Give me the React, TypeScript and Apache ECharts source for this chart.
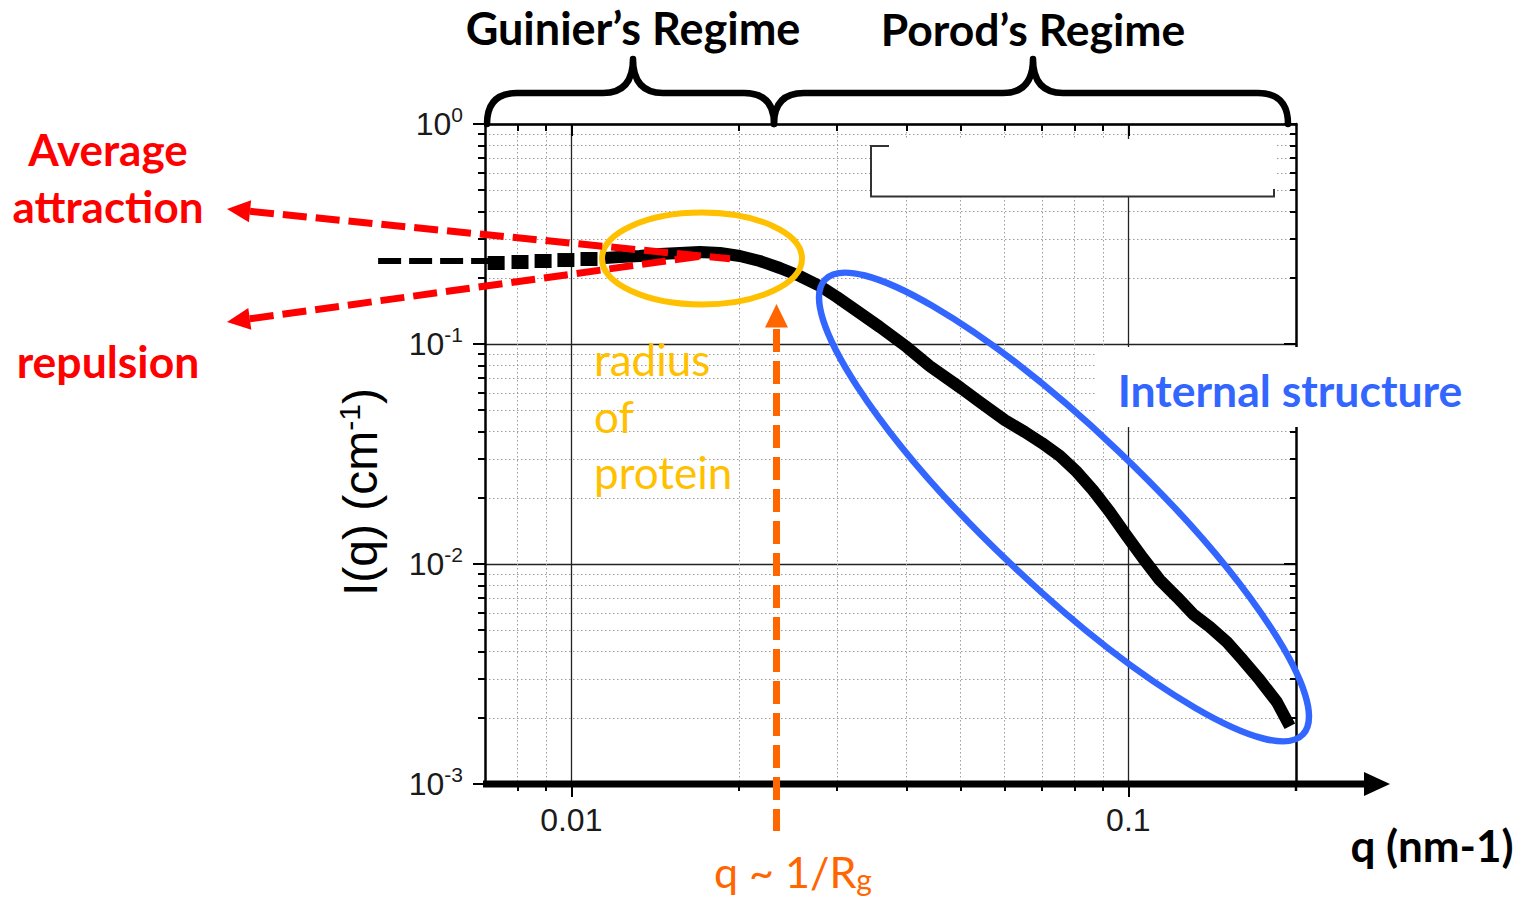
import { useEffect, useRef } from "react";
import * as echarts from "echarts";

// ---- SAXS profile: q in nm^-1, I(q) in cm^-1 ----
// sparse low-q points (drawn as separate square markers)
const qSparse = [0.00733, 0.00809, 0.0089, 0.00978, 0.01076];
const intensitySparse = [0.2334, 0.2359, 0.2384, 0.2408, 0.2434];

// dense part of the scan (drawn as a continuous thick trace)
const qCurve = [
  0.01149, 0.01223, 0.01327, 0.01442, 0.01566, 0.01701, 0.01848, 0.02007, 0.0218, 0.02368,
  0.02572, 0.02794, 0.02998, 0.03296, 0.0358, 0.04003, 0.04401, 0.05005, 0.05412, 0.06003,
  0.06521, 0.06994, 0.07534, 0.08085, 0.08636, 0.09265, 0.09938, 0.1062, 0.1139, 0.1222,
  0.1306, 0.1401, 0.1503, 0.1606, 0.1722, 0.1848, 0.195,
];
const intensityCurve = [
  0.2459, 0.2485, 0.2512, 0.2566, 0.2593, 0.262, 0.2593, 0.2512, 0.2384, 0.2215,
  0.2037, 0.1835, 0.1635, 0.1383, 0.1195, 0.0969, 0.0794, 0.0631, 0.0545, 0.0451,
  0.0398, 0.0355, 0.031, 0.0262, 0.0217, 0.01723, 0.01341, 0.01065, 0.00846, 0.00708,
  0.00593, 0.00517, 0.00442, 0.00366, 0.00297, 0.00236, 0.00183,
];

// Guinier plateau extrapolated towards q -> 0
const qPlateau = [0.0045, 0.00733];
const intensityPlateau = [0.2384, 0.2384];

// ---- axis ticks ----
const qMajorTicks = [0.01, 0.1];
const qMinorTicks = [0.008, 0.009, 0.02, 0.03, 0.04, 0.05, 0.06, 0.07, 0.08, 0.09];
const iMajorTicks = [0.001, 0.01, 0.1, 1];
const iMinorTicks = [
  0.002, 0.003, 0.004, 0.005, 0.006, 0.007, 0.008, 0.009,
  0.02, 0.03, 0.04, 0.05, 0.06, 0.07, 0.08, 0.09,
  0.2, 0.3, 0.4, 0.5, 0.6, 0.7, 0.8, 0.9,
];

const SANS = "Lato, 'Open Sans', sans-serif";
const ARIAL = "'Liberation Sans', Arial, sans-serif";
const RED = "#ff0000";
const GOLD = "#ffc000";
const ORANGE = "#ff6600";
const BLUE = "#3366ff";

// curly braces above the plot
echarts.graphic.registerShape(
  "guinierBrace",
  echarts.graphic.extendPath(
    "M487 124 Q487 93 517 93 L603 93 Q633 93 633 59 Q633 93 663 93 L744 93 Q774 93 774 124",
    {}
  )
);
echarts.graphic.registerShape(
  "porodBrace",
  echarts.graphic.extendPath(
    "M774 124 Q774 93 804 93 L1003 93 Q1033 93 1033 59 Q1033 93 1063 93 L1258 93 Q1288 93 1288 124",
    {}
  )
);

const zip = (xs: number[], ys: number[]) => xs.map((x, i) => [x, ys[i]]);

type TextOpts = {
  color: string;
  size: number;
  weight?: string | number;
  family?: string;
  align?: string;
  rich?: Record<string, unknown>;
  rotation?: number;
};

const textEl = (text: string, x: number, y: number, o: TextOpts) => ({
  type: "text",
  x,
  y,
  z: 40,
  rotation: o.rotation ?? 0,
  style: {
    text,
    fill: o.color,
    fontSize: o.size,
    fontWeight: o.weight ?? "normal",
    fontFamily: o.family ?? SANS,
    align: o.align ?? "center",
    textAlign: o.align ?? "center",
    verticalAlign: "middle",
    textVerticalAlign: "middle",
    rich: o.rich,
  },
});

const logQ = { type: "log", logBase: 10, min: 0.007, max: 0.2, gridIndex: 0 } as const;
const logI = { type: "log", logBase: 10, min: 0.001, max: 1, gridIndex: 0 } as const;
const tickStyle = { color: "#000", width: 2 };

function annotationElements(): any[] {
  return [
    // braces and regime titles
    { type: "guinierBrace", z: 30, style: { fill: "none", stroke: "#000", lineWidth: 6.5, lineJoin: "round", lineCap: "round" } },
    { type: "porodBrace", z: 30, style: { fill: "none", stroke: "#000", lineWidth: 6.5, lineJoin: "round", lineCap: "round" } },
    textEl("Guinier\u2019s Regime", 633, 28, { color: "#000", size: 45, weight: "bold" }),
    textEl("Porod\u2019s Regime", 1033, 28, { color: "#000", size: 44.5, weight: "bold" }),

    // emptied legend frame
    { type: "rect", z: 20, shape: { x: 871, y: 139, width: 404, height: 57 }, style: { fill: "#fff" } },
    {
      type: "polyline",
      z: 21,
      shape: { points: [[889, 146], [871, 146], [871, 196.5], [1274, 196.5], [1274, 189]] },
      style: { fill: "none", stroke: "#333", lineWidth: 2 },
    },

    // internal-structure label with its white backdrop
    { type: "rect", z: 20, shape: { x: 1097, y: 347, width: 390, height: 80 }, style: { fill: "#fff" } },
    textEl("Internal structure", 1290, 389, { color: BLUE, size: 44.5, weight: "bold" }),

    // highlight ellipses
    {
      type: "ellipse",
      z: 35,
      shape: { cx: 702, cy: 258.5, rx: 100, ry: 46 },
      style: { fill: "none", stroke: GOLD, lineWidth: 6 },
    },
    {
      type: "ellipse",
      z: 35,
      x: 1064,
      y: 507,
      rotation: -0.7607,
      shape: { cx: 0, cy: 0, rx: 330, ry: 78 },
      style: { fill: "none", stroke: BLUE, lineWidth: 6.5 },
    },

    // attraction / repulsion tangents
    {
      type: "line",
      z: 36,
      shape: { x1: 250, y1: 211.3, x2: 730, y2: 258.8 },
      style: { stroke: RED, lineWidth: 7, lineDash: [24, 9] },
    },
    {
      type: "polygon",
      z: 36,
      shape: { points: [[227, 209], [248.9, 222.3], [251.1, 200.3]] },
      style: { fill: RED },
    },
    {
      type: "line",
      z: 36,
      shape: { x1: 249.8, y1: 318.8, x2: 700, y2: 256.3 },
      style: { stroke: RED, lineWidth: 7, lineDash: [24, 9] },
    },
    {
      type: "polygon",
      z: 36,
      shape: { points: [[227, 322], [251.3, 329.7], [248.3, 307.9]] },
      style: { fill: RED },
    },
    textEl("Average", 108, 149, { color: RED, size: 44, weight: "bold" }),
    textEl("attraction", 108, 206, { color: RED, size: 44, weight: "bold" }),
    textEl("repulsion", 108, 360, { color: RED, size: 44.5, weight: "bold" }),

    // q ~ 1/Rg marker
    {
      type: "line",
      z: 36,
      shape: { x1: 776.5, y1: 329, x2: 776.5, y2: 831 },
      style: { stroke: ORANGE, lineWidth: 7, lineDash: [23, 9] },
    },
    {
      type: "polygon",
      z: 36,
      shape: { points: [[776.5, 304], [765, 327.5], [788, 327.5]] },
      style: { fill: ORANGE },
    },
    textEl("{a|q ~ 1/R}{b|g}", 793, 871, {
      color: ORANGE,
      size: 44,
      rich: {
        a: { fontSize: 43, lineHeight: 46, fontFamily: SANS, fill: ORANGE, color: ORANGE },
        b: { fontSize: 30, lineHeight: 22, verticalAlign: "bottom", fontFamily: SANS, fill: ORANGE, color: ORANGE },
      },
    }),

    // radius of protein
    textEl("radius", 594, 359, { color: GOLD, size: 44, align: "left" }),
    textEl("of", 594, 416, { color: GOLD, size: 44, align: "left" }),
    textEl("protein", 594, 472, { color: GOLD, size: 44, align: "left" }),

    // y-axis title
    textEl("{a|I(q) (cm}{b|-1}{a|)}", 360, 492, {
      color: "#000",
      size: 48,
      family: ARIAL,
      rotation: Math.PI / 2,
      rich: {
        a: { fontSize: 48, lineHeight: 52, fontFamily: ARIAL, fill: "#000", color: "#000" },
        b: { fontSize: 30, lineHeight: 26, verticalAlign: "top", fontFamily: ARIAL, fill: "#000", color: "#000" },
      },
    }),

    // heavy q axis with arrow
    {
      type: "line",
      z: 30,
      shape: { x1: 483, y1: 784, x2: 1368, y2: 784 },
      style: { stroke: "#000", lineWidth: 7 },
    },
    {
      type: "polygon",
      z: 30,
      shape: { points: [[1364, 772], [1390, 784], [1364, 796]] },
      style: { fill: "#000" },
    },
    {
      type: "line",
      z: 30,
      shape: { x1: 1296, y1: 784, x2: 1296, y2: 791 },
      style: { stroke: "#000", lineWidth: 2.5 },
    },
    textEl("q (nm-1)", 1432, 845, { color: "#000", size: 44, weight: "bold" }),
  ];
}

function buildOption() {
  return {
    animation: false,
    backgroundColor: "#fff",
    grid: { left: 485, top: 124, width: 811, height: 660, containLabel: false },
    xAxis: [
      {
        ...logQ,
        position: "bottom",
        axisLine: { show: false, onZero: false },
        axisTick: { show: true, inside: false, length: 13, customValues: qMajorTicks, lineStyle: tickStyle },
        axisLabel: {
          show: true,
          customValues: qMajorTicks,
          margin: 20,
          fontSize: 32,
          fontFamily: ARIAL,
          color: "#1a1a1a",
          formatter: (v: number) => String(+v.toPrecision(3)),
        },
        splitLine: { show: true, lineStyle: { color: "#222", width: 1.3, type: "solid" } },
      },
      {
        ...logQ,
        position: "bottom",
        axisLine: { show: false, onZero: false },
        axisTick: { show: true, inside: false, length: 7, customValues: qMinorTicks, lineStyle: tickStyle },
        axisLabel: { show: false },
        splitLine: { show: true, lineStyle: { color: "#9c9c9c", width: 1, type: [1.5, 2.5] } },
      },
      {
        ...logQ,
        position: "top",
        axisLine: { show: true, onZero: false, lineStyle: { color: "#000", width: 2.5 } },
        axisTick: { show: true, inside: true, length: 12, customValues: qMajorTicks, lineStyle: tickStyle },
        axisLabel: { show: false },
        splitLine: { show: false },
      },
      {
        ...logQ,
        position: "top",
        axisLine: { show: false, onZero: false },
        axisTick: { show: true, inside: true, length: 7, customValues: qMinorTicks, lineStyle: tickStyle },
        axisLabel: { show: false },
        splitLine: { show: false },
      },
    ],
    yAxis: [
      {
        ...logI,
        position: "left",
        axisLine: { show: true, onZero: false, lineStyle: { color: "#000", width: 2.5 } },
        axisTick: { show: true, inside: false, length: 12, customValues: iMajorTicks, lineStyle: tickStyle },
        axisLabel: {
          show: true,
          customValues: iMajorTicks,
          margin: 22,
          color: "#1a1a1a",
          fontFamily: ARIAL,
          formatter: (v: number) => `{b|10}{s|${Math.round(Math.log10(v))}}`,
          rich: {
            b: { fontSize: 32, lineHeight: 40, fontFamily: ARIAL, color: "#1a1a1a" },
            s: { fontSize: 21, lineHeight: 20, verticalAlign: "top", fontFamily: ARIAL, color: "#1a1a1a" },
          },
        },
        splitLine: { show: true, lineStyle: { color: "#222", width: 1.3, type: "solid" } },
      },
      {
        ...logI,
        position: "left",
        axisLine: { show: false, onZero: false },
        axisTick: { show: true, inside: false, length: 7, customValues: iMinorTicks, lineStyle: tickStyle },
        axisLabel: { show: false },
        splitLine: { show: true, lineStyle: { color: "#9c9c9c", width: 1, type: [1.5, 2.5] } },
      },
      {
        ...logI,
        position: "right",
        axisLine: { show: true, onZero: false, lineStyle: { color: "#000", width: 2.5 } },
        axisTick: { show: true, inside: true, length: 12, customValues: iMajorTicks, lineStyle: tickStyle },
        axisLabel: { show: false },
        splitLine: { show: false },
      },
      {
        ...logI,
        position: "right",
        axisLine: { show: false, onZero: false },
        axisTick: { show: true, inside: true, length: 6, customValues: iMinorTicks, lineStyle: tickStyle },
        axisLabel: { show: false },
        splitLine: { show: false },
      },
    ],
    series: [
      {
        name: "I(q) low q",
        type: "scatter",
        xAxisIndex: 0,
        yAxisIndex: 0,
        data: zip(qSparse, intensitySparse),
        symbol: "rect",
        symbolSize: [17, 14],
        itemStyle: { color: "#000", opacity: 1 },
        z: 3,
      },
      {
        name: "I(q)",
        type: "line",
        xAxisIndex: 0,
        yAxisIndex: 0,
        data: zip(qCurve, intensityCurve),
        showSymbol: false,
        symbol: "none",
        z: 3,
        lineStyle: { color: "#000", width: 12, join: "round", cap: "butt" },
      },
    ],
    graphic: { elements: annotationElements() },
  };
}

export default function App() {
  const ref = useRef<HTMLDivElement>(null);
  useEffect(() => {
    if (!ref.current) return;
    const chart = echarts.init(ref.current, null, { renderer: "svg" });
    chart.setOption(buildOption() as any);

    // the Guinier plateau extrapolation reaches past the left axis, so it is
    // placed from the axis scales and drawn as an overlay
    const finder = { xAxisIndex: 0, yAxisIndex: 0 };
    const p0 = chart.convertToPixel(finder, [qPlateau[0], intensityPlateau[0]]) as number[];
    const p1 = chart.convertToPixel(finder, [qPlateau[1], intensityPlateau[1]]) as number[];
    chart.setOption({
      graphic: {
        elements: [
          ...annotationElements(),
          {
            type: "line",
            z: 25,
            shape: { x1: p0[0], y1: p0[1], x2: p1[0], y2: p1[1] },
            style: { stroke: "#000", lineWidth: 6, lineDash: [23, 8] },
          },
        ],
      },
    } as any);
    return () => chart.dispose();
  }, []);
  return (
    <div
      ref={ref}
      style={{ position: "absolute", left: 0, top: 0, width: 1521, height: 902, background: "#fff" }}
    />
  );
}
